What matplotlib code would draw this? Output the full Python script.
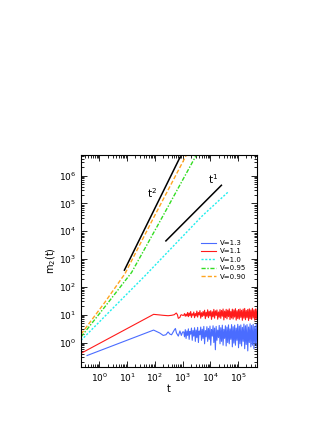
import matplotlib
matplotlib.use("Agg")
import matplotlib.pyplot as plt
import numpy as np

# growing curves: (t, m2) points
t_090 = [0.22, 1.5, 8.4, 89, 1380]
m_090 = [2.0, 26, 300, 3.0e4, 5.6e6]
t_095 = [0.22, 1.5, 14.5, 150, 3160]
m_095 = [1.6, 18, 330, 2.2e4, 5.6e6]
t_100 = [0.22, 44, 5000, 4.4e4]
m_100 = [1.2, 250, 3.5e4, 2.6e5]

# V=1.1 (red): rise, then noisy plateau
t_11 = [0.21, 90, 150, 200, 300, 400, 500, 590, 650, 700, 800, 850, 900, 1000]
m_11 = [0.4, 10.3, 9.8, 9.5, 9.2, 9.5, 10.0, 11.5, 10, 7.4, 8.0, 9.5, 10, 9.5]
red_noise = [9.5, 11, 8.8, 10.5, 9, 12, 8.5, 11.5, 9.2, 13, 8, 10.8, 9.5, 12.5, 7.8, 11, 9, 13.5, 8.2, 12,
             9.8, 14, 7.5, 11.8, 8.6, 13, 9.2, 14.5, 7.2, 12.2, 8.8, 15, 7.8, 13.2, 9, 14, 6.8, 12.8, 8.4, 15.5,
             7.5, 13.8, 9.4, 14.8, 6.9, 12.5, 8.1, 15.2, 7.4, 14.2, 8.8, 16, 6.5, 13.5, 7.9, 15.6, 7.1, 14.6, 8.5, 16.2,
             6.7, 13.2, 7.6, 15.8, 7, 14.9, 8.2, 16.5, 6.4, 13.9, 7.3, 15.4, 6.9, 16, 8, 14.4, 6.3, 15.9, 7.5, 16.8,
             6.6, 14.2, 7.8, 15.5, 6.2, 16.3, 7.2, 14.8, 6.8, 17, 7.6, 15, 6.4, 16.1, 7, 15.7]

# V=1.3 (blue)
t_13 = [0.36, 90, 150, 200, 250, 300, 350, 400, 500, 550, 600, 700, 800, 900, 1000]
m_13 = [0.34, 2.8, 2.2, 1.8, 1.9, 2.4, 2.0, 1.9, 2.8, 3.2, 2.2, 1.7, 2.6, 1.8, 2.4]
blue_noise = [2.4, 1.6, 2.9, 1.4, 2.6, 1.8, 3.1, 1.3, 2.5, 2.0, 3.3, 1.2, 2.7, 1.7, 3.4, 1.1, 2.8, 1.5, 3.5, 1.0,
              2.6, 1.9, 3.6, 1.2, 3.0, 1.4, 3.8, 0.9, 2.7, 1.6, 3.7, 1.1, 3.2, 1.3, 3.9, 0.8, 2.9, 1.7, 4.0, 1.0,
              3.3, 0.55, 3.8, 1.2, 2.8, 1.5, 4.1, 0.9, 3.4, 1.1, 4.2, 0.8, 3.0, 1.4, 4.0, 0.75, 3.6, 1.0, 4.3, 0.9,
              3.1, 1.3, 4.4, 0.7, 3.7, 0.95, 4.2, 0.8, 3.3, 1.2, 4.5, 0.65, 3.9, 0.9, 4.3, 0.75, 3.5, 1.1, 4.6, 0.6,
              4.0, 0.85, 4.4, 0.5, 3.6, 1.0, 4.7, 0.7, 4.1, 0.8, 4.5, 0.6, 3.8, 0.95, 4.6, 0.65]

# guide lines
t_sq = [8, 800]
m_sq = [400, 4.5e6]
t_lin = [250, 2.5e4]
m_lin = [4500, 4.5e5]

x_ticks = [1, 10, 100, 1e3, 1e4, 1e5]
y_ticks = [1, 10, 100, 1e3, 1e4, 1e5, 1e6]

t_red = t_11 + list(np.geomspace(1100, 4.8e5, len(red_noise)))
m_red = m_11 + red_noise
t_blue = t_13 + list(np.geomspace(1100, 4.8e5, len(blue_noise)))
m_blue = m_13 + blue_noise

fig = plt.figure(figsize=(3.27, 4.23), dpi=100)
ax = fig.add_axes([0.248, 0.132, 0.538, 0.502])

ax.plot(t_blue, m_blue, color="#4a6cff", lw=0.8, label="V=1.3")
ax.plot(t_red, m_red, color="#ff1a1a", lw=0.8, label="V=1.1")
ax.plot(t_100, m_100, color="#22eeee", lw=1.0, ls=(0, (1.5, 1.2)), label="V=1.0")
ax.plot(t_095, m_095, color="#33dd22", lw=1.0, ls=(0, (3, 1.2, 1, 1.2)), label="V=0.95")
ax.plot(t_090, m_090, color="#ffa520", lw=1.0, ls=(0, (3, 1.5)), label="V=0.90")

ax.plot(t_sq, m_sq, color="black", lw=1.1)
ax.plot(t_lin, m_lin, color="black", lw=1.1)
ax.text(80, 2.4e5, "t$^2$", fontsize=7.5, ha="center", va="center")
ax.text(1.26e4, 7.6e5, "t$^1$", fontsize=7.5, ha="center", va="center")

ax.set_xscale("log")
ax.set_yscale("log")
ax.set_xticks(x_ticks)
ax.set_yticks(y_ticks)
ax.set_xlim(0.22, 4.8e5)
ax.set_ylim(0.13, 5.6e6)
ax.set_xlabel("t", fontsize=7, labelpad=0)
ax.set_ylabel("m$_2$(t)", fontsize=7, labelpad=1)
ax.tick_params(which="both", direction="in", top=True, right=True, labelsize=6.5, width=0.6)
ax.tick_params(which="major", length=4)
ax.tick_params(which="minor", length=2)
ax.yaxis.set_minor_locator(matplotlib.ticker.LogLocator(base=10, subs=np.arange(2, 10), numticks=20))
ax.xaxis.set_minor_locator(matplotlib.ticker.LogLocator(base=10, subs=np.arange(2, 10), numticks=20))
ax.xaxis.set_minor_formatter(matplotlib.ticker.NullFormatter())
ax.yaxis.set_minor_formatter(matplotlib.ticker.NullFormatter())
for s in ax.spines.values():
    s.set_linewidth(0.8)

ax.legend(loc="upper left", bbox_to_anchor=(0.66, 0.615), frameon=False, fontsize=5,
          handlelength=2.2, labelspacing=0.35, borderpad=0, handletextpad=0.6)

fig.savefig("out.png", dpi=100)
